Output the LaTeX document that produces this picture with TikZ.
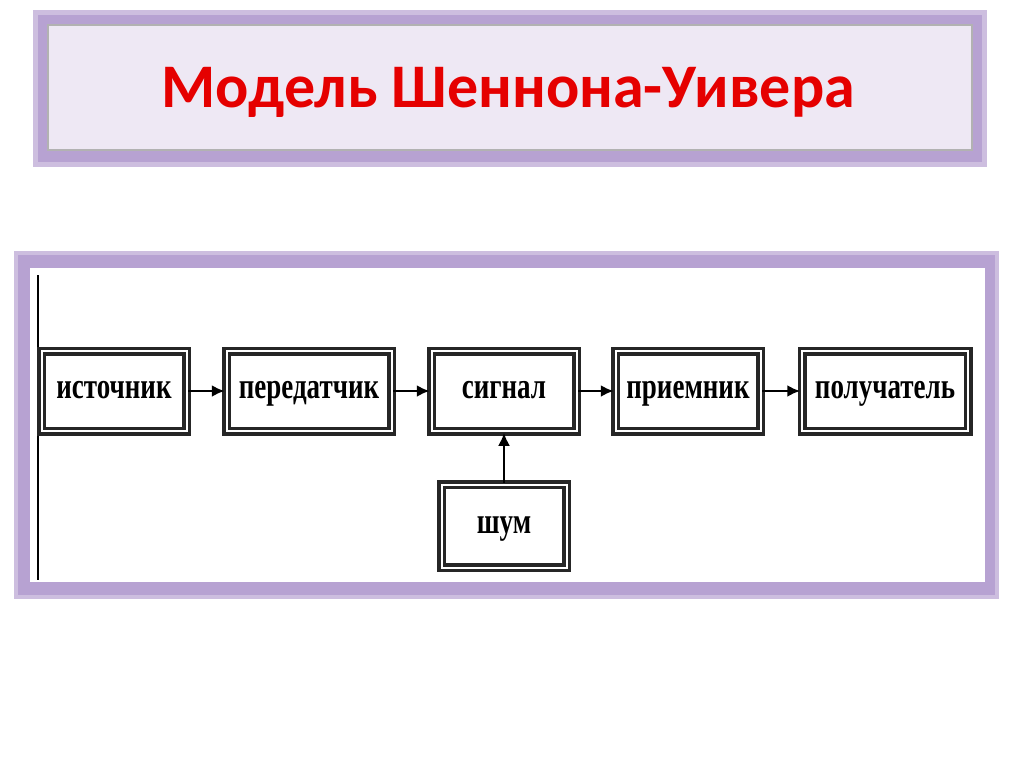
\documentclass[tikz,border=0pt]{standalone}
\usepackage{fontspec}
\usetikzlibrary{arrows.meta}
\setmainfont{Liberation Serif}
\newfontfamily\titlefont{Carlito}
\definecolor{lav}{HTML}{B7A2D2}
\definecolor{lavlight}{HTML}{EEE8F4}
\begin{document}
\begin{tikzpicture}[x=1pt,y=-1pt,
  blk/.style={draw=black!85,line width=3.5pt,double=white,double distance=2pt,fill=white,minimum height=80pt,inner sep=0pt,font=\fontsize{27}{30}\selectfont\bfseries,text height=20pt,text depth=5pt},
  arr/.style={line width=2.5pt,-{Latex[length=13pt,width=12pt]}}]
\useasboundingbox (0,0) rectangle (1024,767);
\fill[white] (0,0) rectangle (1024,767);
% title
\fill[lav!70] (33,10) rectangle (987,167);
\fill[lav] (38,15) rectangle (982,162);
\draw[gray!60,line width=1.5pt,fill=lavlight] (48,25) rectangle (972,150);
\node (title) at (508,92) {\titlefont\bfseries\fontsize{62}{66}\selectfont\color{red!90!black}Модель Шеннона-Уивера};
% frame
\fill[lav!70] (14,251) rectangle (999,599);
\fill[lav] (18,255) rectangle (995,595);
\fill[white] (30,268) rectangle (985,582);
\coordinate (lt) at (38,275); \coordinate (lb) at (38,580);
\draw[line width=2.5pt] (lt) -- (lb);
\node[blk,minimum width=145pt] (b1) at (114,391) {\scalebox{1}[1.35]{источник}};
\node[blk,minimum width=165pt] (b2) at (309,391) {\scalebox{1}[1.35]{передатчик}};
\node[blk,minimum width=145pt] (b3) at (504,391) {\scalebox{1}[1.35]{сигнал}};
\node[blk,minimum width=145pt] (b4) at (688,391) {\scalebox{1}[1.35]{приемник}};
\node[blk,minimum width=166pt] (b5) at (885,391) {\scalebox{1}[1.35]{получатель}};
\node[blk,minimum width=125pt,minimum height=83pt] (b6) at (504,526) {\scalebox{1}[1.35]{шум}};
\draw[arr] (b1) -- (b2);
\draw[arr] (b2) -- (b3);
\draw[arr] (b3) -- (b4);
\draw[arr] (b4) -- (b5);
\draw[arr] (b6) -- (b3);
\end{tikzpicture}
\end{document}
